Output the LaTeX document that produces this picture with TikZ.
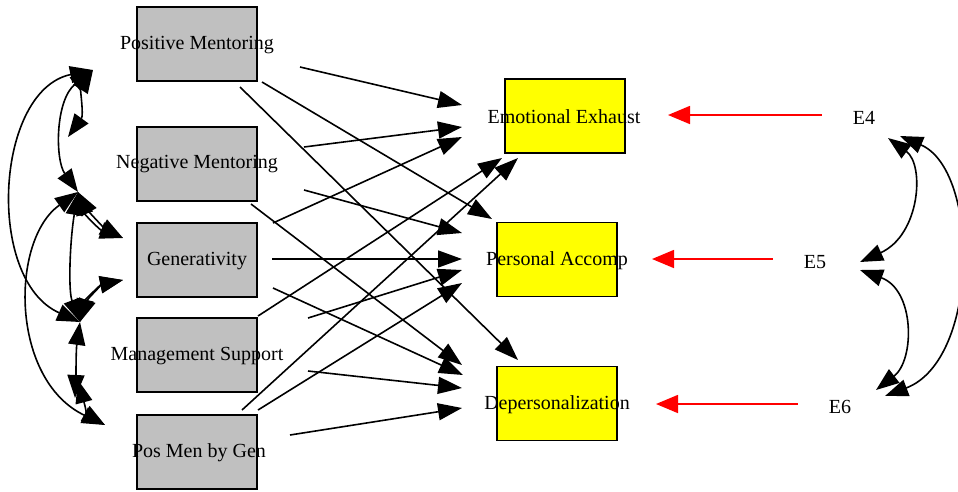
\documentclass[tikz,border=0pt]{standalone}
\usepackage{fontspec}
\setmainfont{Liberation Serif}
\usetikzlibrary{arrows.meta}
\definecolor{boxgray}{HTML}{C0C0C0}
\definecolor{boxyellow}{HTML}{FFFF00}
\begin{document}
\begin{tikzpicture}[x=1pt,y=-1pt,
  gbox/.style={draw=black,line width=1.6pt,fill=boxgray,minimum width=120pt,minimum height=74pt,inner sep=0pt},
  ybox/.style={draw=black,line width=1.6pt,fill=boxyellow,minimum width=120pt,minimum height=74pt,inner sep=0pt},
  lbl/.style={font=\fontsize{20}{24}\selectfont,inner sep=0pt},
  elbl/.style={font=\fontsize{20}{24}\selectfont,inner sep=0pt,minimum width=84pt},
  reg/.style={draw=black,line width=1.6pt,-{Triangle[length=24pt,width=17pt]}},
  cov/.style={draw=black,line width=1.6pt,{Triangle[length=23pt,width=17pt]}-{Triangle[length=23pt,width=17pt]}},
  err/.style={draw=red,line width=1.6pt,-{Triangle[length=22pt,width=18pt]}}]
\useasboundingbox (0,0) rectangle (958,491);
\fill[white] (0,0) rectangle (958,491);

% boxes
\node[gbox] (PM)  at (197,44)  {};
\node[gbox] (NM)  at (197,164) {};
\node[gbox] (GEN) at (197,260) {};
\node[gbox] (MS)  at (197,355) {};
\node[gbox] (PMG) at (197,452) {};
\node[ybox] (EE)  at (565,116) {};
\node[ybox] (PA)  at (557,259.5) {};
\node[ybox] (DP)  at (557,403.5) {};

% labels
\node[lbl] (PMt)  at (197,45)  {Positive Mentoring};
\node[lbl] (NMt)  at (197,164) {Negative Mentoring};
\node[lbl] (GENt) at (197,261) {Generativity};
\node[lbl] (MSt)  at (197,356) {Management Support};
\node[lbl] (PMGt) at (199,453) {Pos Men by Gen};
\node[lbl] (EEt)  at (564,117) {Emotional Exhaust};
\node[lbl] (PAt)  at (557,261) {Personal Accomp};
\node[lbl] (DPt)  at (557,405) {Depersonalization};
\node[elbl] (E4) at (864,118) {E4};
\node[elbl] (E5) at (815,262) {E5};
\node[elbl] (E6) at (840,407) {E6};

% regression path ends
\coordinate (pm1) at (300,67);  \coordinate (pm2) at (262,82);  \coordinate (pm3) at (240,87);
\coordinate (nm1) at (304,147); \coordinate (nm2) at (304,190); \coordinate (nm3) at (251,204);
\coordinate (ge1) at (273,223); \coordinate (ge2) at (272,259); \coordinate (ge3) at (273,288);
\coordinate (ms1) at (258,316); \coordinate (ms2) at (308,318); \coordinate (ms3) at (308,371);
\coordinate (pg1) at (242,410); \coordinate (pg2) at (258,410); \coordinate (pg3) at (290,435);
\coordinate (ee1) at (462,105); \coordinate (ee2) at (462,127); \coordinate (ee3) at (462,137);
\coordinate (ee4) at (502,158); \coordinate (ee5) at (518,158);
\coordinate (pa1) at (492,219); \coordinate (pa2) at (462,233); \coordinate (pa3) at (462,259);
\coordinate (pa4) at (462,270); \coordinate (pa5) at (462,283);
\coordinate (dp1) at (518,360); \coordinate (dp2) at (462,365); \coordinate (dp3) at (463,375);
\coordinate (dp4) at (462,388); \coordinate (dp5) at (462,408);

\draw[reg] (pm1) -- (ee1);
\draw[reg] (pm2) -- (pa1);
\draw[reg] (pm3) -- (dp1);
\draw[reg] (nm1) -- (ee2);
\draw[reg] (nm2) -- (pa2);
\draw[reg] (nm3) -- (dp2);
\draw[reg] (ge1) -- (ee3);
\draw[reg] (ge2) -- (pa3);
\draw[reg] (ge3) -- (dp3);
\draw[reg] (ms1) -- (ee4);
\draw[reg] (ms2) -- (pa4);
\draw[reg] (ms3) -- (dp4);
\draw[reg] (pg1) -- (ee5);
\draw[reg] (pg2) -- (pa5);
\draw[reg] (pg3) -- (dp5);

% error arrows
\coordinate (eeR) at (668,115);
\coordinate (paR) at (652,259);
\coordinate (dpR) at (656,404);
\draw[err] (E4.west |- eeR) -- (eeR);
\draw[err] (E5.west |- paR) -- (paR);
\draw[err] (E6.west |- dpR) -- (dpR);

% left covariance ports
\coordinate (pA) at (93,70);
\coordinate (pB) at (68,137);
\coordinate (pC) at (78,192);
\coordinate (pD) at (123,238);
\coordinate (pE) at (123,280);
\coordinate (pF) at (80,322);
\coordinate (pG) at (75,398);
\coordinate (pG2) at (78,380);
\coordinate (pH) at (105,425);

\draw[cov] (pA) .. controls (-5,90) and (-15,280) .. (pF);
\draw[cov] (pA) .. controls (80,90) and (84,115) .. (pB);
\draw[cov] (pA) .. controls (55,100) and (55,160) .. (pC);
\draw[cov] (pC) .. controls (85,215) and (100,230) .. (pD);
\draw[cov] (pC) .. controls (89,212) and (103,227) .. (pD);
\draw[cov] (pC) .. controls (10,240) and (10,380) .. (pH);
\draw[cov] (pC) .. controls (70,240) and (68,290) .. (pF);
\draw[cov] (pF) .. controls (85,300) and (100,285) .. (pE);
\draw[cov] (pF) .. controls (88,298) and (103,284) .. (pE);
\draw[cov] (pF) .. controls (76,350) and (76,375) .. (pG);
\draw[cov] (pG2) .. controls (82,395) and (88,415) .. (pH);

% right covariance ports
\coordinate (q4a) at (888,138);
\coordinate (q4b) at (900,136);
\coordinate (q5a) at (860,262);
\coordinate (q5b) at (860,270);
\coordinate (q6a) at (876,390);
\coordinate (q6b) at (885,396);
\draw[cov] (q4a) .. controls (925,165) and (920,235) .. (q5a);
\draw[cov] (q5b) .. controls (915,290) and (915,360) .. (q6a);
\draw[cov] (q4b) .. controls (980,170) and (980,360) .. (q6b);
\end{tikzpicture}
\end{document}
